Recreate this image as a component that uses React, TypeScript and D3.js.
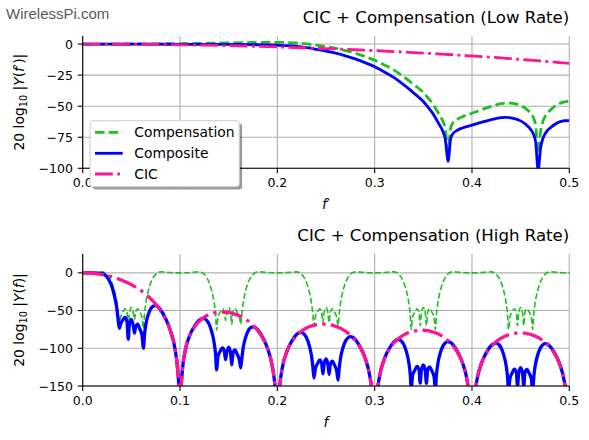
import React from 'react';
import * as d3 from 'd3';

const W = 589;
const H = 440;
const FONT = "'DejaVu Sans', sans-serif";

// ---------- Low-rate panel (f') ----------
const fLow = [
  0, 0.025, 0.05, 0.075, 0.1, 0.125, 0.15, 0.175, 0.2,
  0.21, 0.22, 0.23, 0.24, 0.25, 0.26, 0.27, 0.28, 0.29, 0.3, 0.31, 0.32, 0.33, 0.34, 0.35,
  0.355, 0.36, 0.365, 0.37, 0.3725, 0.3755, 0.378, 0.38, 0.385, 0.39,
  0.4, 0.41, 0.42, 0.43, 0.435, 0.44, 0.45, 0.455, 0.46, 0.463, 0.4655, 0.468, 0.4705, 0.473, 0.477, 0.48, 0.485, 0.49, 0.495, 0.5,
];
const cicLow = [
  0, -0.04, -0.14, -0.32, -0.57, -0.89, -1.28, -1.75, -2.29,
  -2.53, -2.78, -3.05, -3.32, -3.61, -3.92, -4.23, -4.56, -4.9, -5.25, -5.62, -6.0, -6.4, -6.81, -7.24,
  -7.46, -7.68, -7.9, -8.14, -8.25, -8.38, -8.5, -8.6, -8.84, -9.08,
  -9.59, -10.1, -10.64, -11.19, -11.47, -11.75, -12.34, -12.64, -12.95, -13.14, -13.3, -13.45, -13.6, -13.76, -14.02, -14.21, -14.54, -14.87, -15.21, -15.55,
];
const compLow = [
  0, 0.01, 0.08, 0.2, 0.38, 0.66, 0.98, 1.25, 1.35,
  1.25, 0.85, 0.1, -0.9, -2.0, -3.4, -5.2, -7.4, -10.0, -13.0, -16.8, -21.0, -26.5, -32.5, -39.0,
  -43.5, -48.5, -55.0, -62.0, -68.0, -86.0, -68.0, -64.0, -60.5, -58.5,
  -55.7, -52.8, -50.2, -48.0, -47.5, -47.6, -49.5, -51.8, -55.5, -59.0, -66.0, -88.0, -70.0, -62.0, -56.0, -53.5, -50.2, -47.8, -46.5, -46.0,
];
const compositeLow = [
  0, -0.03, -0.06, -0.12, -0.19, -0.23, -0.3, -0.5, -0.94,
  -1.28, -1.93, -2.95, -4.22, -5.61, -7.32, -9.43, -11.96, -14.9, -18.25, -22.42, -27.0, -32.9, -39.31, -46.24,
  -50.96, -56.18, -62.9, -70.14, -76.25, -94.38, -76.5, -72.6, -69.34, -67.58,
  -65.29, -62.9, -60.84, -59.19, -58.97, -59.35, -61.84, -64.44, -68.45, -72.14, -79.3, -101.45, -83.6, -75.76, -70.02, -67.71, -64.74, -62.67, -61.71, -61.55,
];

// ---------- High-rate panel (f) ----------
const fHigh = [
  0, 0.001, 0.0025, 0.005, 0.01, 0.015, 0.02, 0.0225, 0.025, 0.0275, 0.03, 0.0325, 0.035, 0.0365, 0.0376, 0.039, 0.0415, 0.0435, 0.0455, 0.0468, 0.048, 0.05, 0.052, 0.0532, 0.0545, 0.0565, 0.0585, 0.061, 0.0624, 0.0635, 0.065, 0.0675, 0.07, 0.0725, 0.075, 0.0775, 0.08, 0.085, 0.09, 0.095, 0.0975, 0.099,
  0.1, 0.101, 0.1025, 0.105, 0.11, 0.115, 0.12, 0.1225, 0.125, 0.1275, 0.13, 0.1325, 0.135, 0.1365, 0.1376, 0.139, 0.1415, 0.1435, 0.1455, 0.1468, 0.148, 0.15, 0.152, 0.1532, 0.1545, 0.1565, 0.1585, 0.161, 0.1624, 0.1635, 0.165, 0.1675, 0.17, 0.1725, 0.175, 0.1775, 0.18, 0.185, 0.19, 0.195, 0.1975, 0.199,
  0.2, 0.201, 0.2025, 0.205, 0.21, 0.215, 0.22, 0.2225, 0.225, 0.2275, 0.23, 0.2325, 0.235, 0.2365, 0.2376, 0.239, 0.2415, 0.2435, 0.2455, 0.2468, 0.248, 0.25, 0.252, 0.2532, 0.2545, 0.2565, 0.2585, 0.261, 0.2624, 0.2635, 0.265, 0.2675, 0.27, 0.2725, 0.275, 0.2775, 0.28, 0.285, 0.29, 0.295, 0.2975, 0.299,
  0.3, 0.301, 0.3025, 0.305, 0.31, 0.315, 0.32, 0.3225, 0.325, 0.3275, 0.33, 0.3325, 0.335, 0.3365, 0.3376, 0.339, 0.3415, 0.3435, 0.3455, 0.3468, 0.348, 0.35, 0.352, 0.3532, 0.3545, 0.3565, 0.3585, 0.361, 0.3624, 0.3635, 0.365, 0.3675, 0.37, 0.3725, 0.375, 0.3775, 0.38, 0.385, 0.39, 0.395, 0.3975, 0.399,
  0.4, 0.401, 0.4025, 0.405, 0.41, 0.415, 0.42, 0.4225, 0.425, 0.4275, 0.43, 0.4325, 0.435, 0.4365, 0.4376, 0.439, 0.4415, 0.4435, 0.4455, 0.4468, 0.448, 0.45, 0.452, 0.4532, 0.4545, 0.4565, 0.4585, 0.461, 0.4624, 0.4635, 0.465, 0.4675, 0.47, 0.4725, 0.475, 0.4775, 0.48, 0.485, 0.49, 0.495, 0.4975, 0.499,
  0.5,
];
const cicHigh = [
  0, 0, -0.04, -0.14, -0.57, -1.28, -2.29, -2.92, -3.61, -4.39, -5.25, -6.2, -7.24, -7.95, -8.46, -9.12, -10.42, -11.52, -12.66, -13.5, -14.27, -15.55, -17.03, -17.92, -18.89, -20.55, -22.27, -24.56, -25.96, -27.07, -28.57, -31.4, -34.46, -37.8, -41.5, -45.6, -50.12, -61.15, -76.45, -101.93, -127.2, -159.4,
  -300, -159.5, -128.4, -105.29, -83.19, -71.3, -63.74, -61.1, -58.67, -56.9, -55.28, -54.2, -53.16, -52.84, -52.6, -52.3, -52.03, -51.95, -51.97, -52.14, -52.3, -52.56, -53.15, -53.5, -53.9, -54.75, -55.67, -57.0, -57.93, -58.64, -59.61, -61.7, -63.9, -66.6, -69.49, -73.0, -76.78, -86.6, -100.78, -125.23, -149.6, -181.8,
  -300, -181.9, -150.4, -126.73, -103.79, -91.12, -82.82, -79.8, -77.04, -74.9, -73.0, -71.55, -70.25, -69.75, -69.4, -68.92, -68.36, -68.06, -67.85, -67.88, -67.91, -67.96, -68.35, -68.58, -68.83, -69.48, -70.21, -71.31, -72.09, -72.7, -73.53, -75.4, -77.38, -79.9, -82.52, -85.9, -89.4, -98.82, -112.62, -136.69, -160.9, -192.9,
  -300, -192.9, -161.3, -137.48, -114.2, -101.2, -92.58, -89.4, -86.5, -84.2, -82.15, -80.55, -79.12, -78.53, -78.1, -77.55, -76.85, -76.45, -76.13, -76.09, -76.05, -75.99, -76.27, -76.44, -76.63, -77.17, -77.8, -78.77, -79.47, -80.03, -80.78, -82.5, -84.38, -86.75, -89.29, -92.5, -95.93, -105.12, -118.68, -142.53, -166.6, -198.5,
  -300, -198.5, -166.8, -142.88, -119.39, -106.18, -97.35, -94.1, -91.07, -88.7, -86.52, -84.85, -83.28, -82.63, -82.16, -81.55, -80.76, -80.27, -79.88, -79.79, -79.71, -79.57, -79.77, -79.9, -80.03, -80.5, -81.05, -81.94, -82.59, -83.1, -83.8, -85.4, -87.21, -89.45, -91.93, -95.0, -98.39, -107.4, -120.78, -144.45, -168.4, -200.2,
  -300,
];
const compHigh = [
  0, 0, 0.01, 0.08, 0.38, 0.98, 1.35, 0.5, -2.0, -6.3, -13.0, -23.5, -39.0, -55.0, -65.0, -58.5, -51.5, -47.5, -51.8, -74.5, -53.5, -46.0, -53.5, -62.0, -51.8, -47.5, -51.5, -58.5, -74.0, -55.0, -39.0, -23.5, -13.0, -6.3, -2.0, 0.5, 1.35, 0.98, 0.38, 0.08, 0.01, 0,
  0, 0, 0.01, 0.08, 0.38, 0.98, 1.35, 0.5, -2.0, -6.3, -13.0, -23.5, -39.0, -55.0, -76.0, -58.5, -51.5, -47.5, -51.8, -63.0, -53.5, -46.0, -53.5, -68.5, -51.8, -47.5, -51.5, -58.5, -68.0, -55.0, -39.0, -23.5, -13.0, -6.3, -2.0, 0.5, 1.35, 0.98, 0.38, 0.08, 0.01, 0,
  0, 0, 0.01, 0.08, 0.38, 0.98, 1.35, 0.5, -2.0, -6.3, -13.0, -23.5, -39.0, -55.0, -70.0, -58.5, -51.5, -47.5, -51.8, -66.0, -53.5, -46.0, -53.5, -66.0, -51.8, -47.5, -51.5, -58.5, -70.0, -55.0, -39.0, -23.5, -13.0, -6.3, -2.0, 0.5, 1.35, 0.98, 0.38, 0.08, 0.01, 0,
  0, 0, 0.01, 0.08, 0.38, 0.98, 1.35, 0.5, -2.0, -6.3, -13.0, -23.5, -39.0, -55.0, -75.0, -58.5, -51.5, -47.5, -51.8, -70.0, -53.5, -46.0, -53.5, -70.0, -51.8, -47.5, -51.5, -58.5, -75.0, -55.0, -39.0, -23.5, -13.0, -6.3, -2.0, 0.5, 1.35, 0.98, 0.38, 0.08, 0.01, 0,
  0, 0, 0.01, 0.08, 0.38, 0.98, 1.35, 0.5, -2.0, -6.3, -13.0, -23.5, -39.0, -55.0, -75.0, -58.5, -51.5, -47.5, -51.8, -70.0, -53.5, -46.0, -53.5, -70.0, -51.8, -47.5, -51.5, -58.5, -75.0, -55.0, -39.0, -23.5, -13.0, -6.3, -2.0, 0.5, 1.35, 0.98, 0.38, 0.08, 0.01, 0,
  0,
];
const compositeHigh = [
  0, 0, -0.03, -0.06, -0.19, -0.3, -0.94, -2.42, -5.61, -10.69, -18.25, -29.7, -46.24, -62.95, -73.5, -67.6, -61.9, -59.0, -64.5, -88.0, -67.8, -61.55, -70.5, -79.9, -70.7, -68.05, -73.8, -83.1, -100.0, -82.1, -67.57, -54.9, -47.46, -44.1, -43.5, -45.1, -48.77, -60.17, -76.07, -101.85, -127.2, -159.4,
  -300, -159.5, -128.4, -105.21, -82.81, -70.32, -62.39, -60.6, -60.67, -63.2, -68.28, -77.7, -92.16, -107.8, -128.6, -110.8, -103.5, -99.45, -103.8, -115.1, -105.8, -98.56, -106.65, -122.0, -105.7, -102.25, -107.2, -115.5, -125.9, -113.6, -98.61, -85.2, -76.9, -72.9, -71.49, -72.5, -75.43, -85.62, -100.4, -125.15, -149.6, -181.8,
  -300, -181.9, -150.4, -126.65, -103.41, -90.14, -81.47, -79.3, -79.04, -81.2, -86.0, -95.05, -109.25, -124.75, -139.4, -127.4, -119.86, -115.56, -119.65, -133.9, -121.4, -113.96, -121.85, -134.6, -120.6, -116.98, -121.7, -129.8, -142.1, -127.7, -112.53, -98.9, -90.38, -86.2, -84.52, -85.4, -88.05, -97.84, -112.24, -136.61, -160.9, -192.9,
  -300, -192.9, -161.3, -137.4, -113.82, -100.22, -91.23, -88.9, -88.5, -90.5, -95.15, -104.05, -118.12, -133.5, -153.1, -136.05, -128.35, -123.95, -127.93, -146.1, -129.55, -121.99, -129.77, -146.44, -128.43, -124.67, -129.3, -137.27, -154.47, -135.03, -119.78, -106.0, -97.38, -93.05, -91.29, -92.0, -94.58, -104.14, -118.3, -142.45, -166.6, -198.5,
  -300, -198.5, -166.8, -142.8, -119.01, -105.2, -96.0, -93.6, -93.07, -95.0, -99.52, -108.35, -122.28, -137.63, -157.2, -140.05, -132.26, -127.77, -131.68, -149.8, -133.2, -125.57, -133.27, -149.9, -131.83, -128.0, -132.55, -140.44, -157.6, -138.1, -122.8, -108.9, -100.21, -95.75, -93.93, -94.5, -97.04, -106.42, -120.4, -144.37, -168.4, -200.2,
  -300,
];

// ---------- Axes / labels ----------
const xTicks = [0, 0.1, 0.2, 0.3, 0.4, 0.5];
const yTicksLow = [0, -25, -50, -75, -100];
const yTicksHigh = [0, -50, -100, -150];
const legendLabels = ['Compensation', 'Composite', 'CIC'];
const titleLow = 'CIC + Compensation (Low Rate)';
const titleHigh = 'CIC + Compensation (High Rate)';
const watermark = 'WirelessPi.com';

const GREEN = '#1fbf1f';
const BLUE = '#0000ff';
const PINK = '#ff1493';

const LEFT = 82.7;
const RIGHT = 569.3;

const fmt = (v: number) => (v < 0 ? '\u2212' + Math.abs(v) : String(v));
const fmtX = (v: number) => v.toFixed(1);

type LineStyle = { color: string; width: number; dash?: string };

interface PanelProps {
  id: string;
  top: number;
  bottom: number;
  yDomain: [number, number];
  yTicks: number[];
  f: number[];
  comp: number[];
  composite: number[];
  cic: number[];
  compStyle: LineStyle;
  compositeStyle: LineStyle;
  cicStyle: LineStyle;
  title: string;
  titleY: number;
  prime: boolean;
  legend: boolean;
}

function Panel(p: PanelProps) {
  const x = d3.scaleLinear().domain([0, 0.5]).range([LEFT, RIGHT]);
  const y = d3.scaleLinear().domain(p.yDomain).range([p.bottom, p.top]);
  const mk = (vals: number[]) =>
    d3
      .line<number>()
      .x((_, i) => x(p.f[i]))
      .y((d) => y(d))
      .curve(d3.curveMonotoneX)(vals) || '';
  const midY = (p.top + p.bottom) / 2;
  const midX = (LEFT + RIGHT) / 2;
  const tick = 4.9;
  const styles = [p.compStyle, p.compositeStyle, p.cicStyle];
  const lg = { x: 90, y: 120.7, w: 149.3, h: 66 };
  const rows = [132.3, 153.3, 174];
  return (
    <g>
      <defs>
        <clipPath id={p.id}>
          <rect x={LEFT} y={p.top} width={RIGHT - LEFT} height={p.bottom - p.top} />
        </clipPath>
      </defs>
      {/* grid */}
      {xTicks.map((t) => (
        <line key={'gx' + t} x1={x(t)} x2={x(t)} y1={p.top} y2={p.bottom} stroke="#b0b0b0" strokeWidth={1.1} />
      ))}
      {p.yTicks.map((t) => (
        <line key={'gy' + t} x1={LEFT} x2={RIGHT} y1={y(t)} y2={y(t)} stroke="#b0b0b0" strokeWidth={1.1} />
      ))}
      {/* series */}
      <g clipPath={`url(#${p.id})`} fill="none" strokeLinejoin="round">
        <path d={mk(p.comp)} stroke={p.compStyle.color} strokeWidth={p.compStyle.width} strokeDasharray={p.compStyle.dash} />
        <path d={mk(p.composite)} stroke={p.compositeStyle.color} strokeWidth={p.compositeStyle.width} />
        <path d={mk(p.cic)} stroke={p.cicStyle.color} strokeWidth={p.cicStyle.width} strokeDasharray={p.cicStyle.dash} />
      </g>
      {/* spines */}
      <line x1={LEFT} x2={LEFT} y1={p.top} y2={p.bottom + 0.5} stroke="#000" strokeWidth={1.1} />
      <line x1={LEFT - 0.5} x2={RIGHT} y1={p.bottom} y2={p.bottom} stroke="#000" strokeWidth={1.1} />
      {/* ticks */}
      {xTicks.map((t) => (
        <g key={'tx' + t}>
          <line x1={x(t)} x2={x(t)} y1={p.bottom} y2={p.bottom + tick} stroke="#000" strokeWidth={1.1} />
          <text x={x(t)} y={p.bottom + 19} textAnchor="middle" fontFamily={FONT} fontSize={12.5} fill="#000">
            {fmtX(t)}
          </text>
        </g>
      ))}
      {p.yTicks.map((t) => (
        <g key={'ty' + t}>
          <line x1={LEFT - tick} x2={LEFT} y1={y(t)} y2={y(t)} stroke="#000" strokeWidth={1.1} />
          <text x={LEFT - tick - 4.9} y={y(t) + 4.6} textAnchor="end" fontFamily={FONT} fontSize={12.5} fill="#000">
            {fmt(t)}
          </text>
        </g>
      ))}
      {/* y label */}
      <text transform={`translate(24,${midY}) rotate(-90)`} textAnchor="middle" fontFamily={FONT} fontSize={13.9} fill="#000">
        <tspan>20 log</tspan>
        <tspan fontSize={9.7} dy={3}>10</tspan>
        <tspan dy={-3}> |</tspan>
        <tspan fontStyle="italic">Y</tspan>
        <tspan>(</tspan>
        <tspan fontStyle="italic">f</tspan>
        {p.prime ? <tspan>{'\u2032'}</tspan> : null}
        <tspan>)|</tspan>
      </text>
      {/* x label */}
      <text x={midX} y={p.bottom + 40.5} textAnchor="middle" fontFamily={FONT} fontSize={13.9} fill="#000">
        <tspan fontStyle="italic">f</tspan>
        {p.prime ? <tspan>{'\u2032'}</tspan> : null}
      </text>
      {/* title */}
      <text x={RIGHT} y={p.titleY} textAnchor="end" fontFamily={FONT} fontSize={16.6} fill="#000">
        {p.title}
      </text>
      {p.legend ? (
        <g>
          <rect x={lg.x + 2.8} y={lg.y + 2.8} width={lg.w} height={lg.h} rx={3} fill="#000" opacity={0.4} />
          <rect x={lg.x} y={lg.y} width={lg.w} height={lg.h} rx={3} fill="#fff" stroke="#cccccc" strokeWidth={1} />
          {legendLabels.map((lab, i) => (
            <g key={lab}>
              <line
                x1={95}
                x2={122.7}
                y1={rows[i]}
                y2={rows[i]}
                stroke={styles[i].color}
                strokeWidth={styles[i].width}
                strokeDasharray={styles[i].dash}
              />
              <text x={134.3} y={rows[i] + 4.9} fontFamily={FONT} fontSize={13.9} fill="#000">
                {lab}
              </text>
            </g>
          ))}
        </g>
      ) : null}
    </g>
  );
}

export default function App() {
  return (
    <svg
      width={W}
      height={H}
      viewBox={`0 0 ${W} ${H}`}
      style={{ position: 'absolute', left: 0, top: 0, background: '#fff' }}
    >
      <rect x={0} y={0} width={W} height={H} fill="#fff" />
      <text x={6} y={19.3} fontFamily="'Liberation Sans', Arial, sans-serif" fontSize={15} fill="#595959">
        {watermark}
      </text>
      <Panel
        id="clipLow"
        top={36}
        bottom={168.3}
        yDomain={[-100, 6.5]}
        yTicks={yTicksLow}
        f={fLow}
        comp={compLow}
        composite={compositeLow}
        cic={cicLow}
        compStyle={{ color: GREEN, width: 2.8, dash: '9.5,4.2' }}
        compositeStyle={{ color: BLUE, width: 2.8 }}
        cicStyle={{ color: PINK, width: 2.8, dash: '17.8,4.4,2.8,4.4' }}
        title={titleLow}
        titleY={22.8}
        prime={true}
        legend={true}
      />
      <Panel
        id="clipHigh"
        top={254}
        bottom={386}
        yDomain={[-150, 25]}
        yTicks={yTicksHigh}
        f={fHigh}
        comp={compHigh}
        composite={compositeHigh}
        cic={cicHigh}
        compStyle={{ color: GREEN, width: 1.6, dash: '5.9,2.6' }}
        compositeStyle={{ color: BLUE, width: 3.3 }}
        cicStyle={{ color: PINK, width: 3.3, dash: '21,5.3,3.3,5.3' }}
        title={titleHigh}
        titleY={241}
        prime={false}
        legend={false}
      />
    </svg>
  );
}
